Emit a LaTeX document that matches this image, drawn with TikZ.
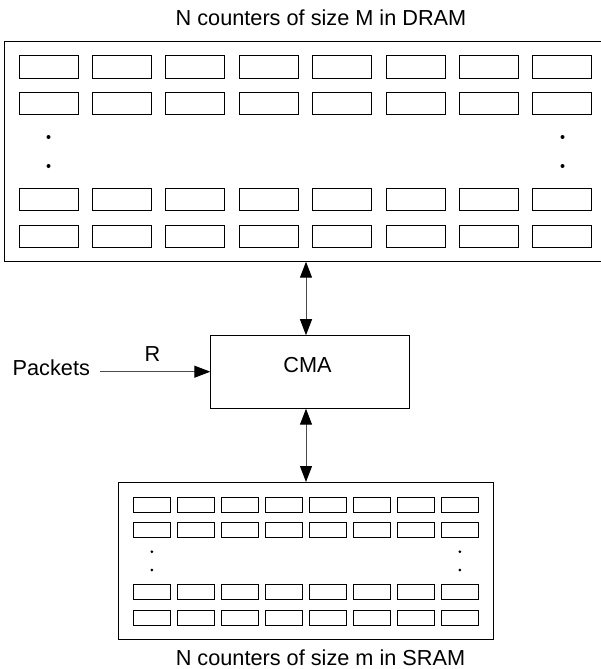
\documentclass[tikz,border=0pt]{standalone}
\usepackage{fontspec}
\setmainfont{Liberation Sans}
\usetikzlibrary{arrows.meta}
\begin{document}
\begin{tikzpicture}[x=1pt,y=-1pt,
  every node/.style={inner sep=0pt, outer sep=0pt},
  lbl/.style={font=\fontsize{21.7}{24}\selectfont, anchor=base},
  frame/.style={draw=black, line width=1pt, anchor=north west},
  bigcell/.style={draw=black, line width=1pt, anchor=north west, minimum width=59pt, minimum height=22pt},
  smallcell/.style={draw=black, line width=0.9pt, anchor=north west, minimum width=37pt, minimum height=15pt},
  conn/.style={draw=black!70, line width=1pt},
  tip/.style={-{Triangle[length=16pt,width=12pt,fill=black,color=black]}},
  bitip/.style={{Triangle[length=16pt,width=12pt,fill=black,color=black]}-{Triangle[length=16pt,width=12pt,fill=black,color=black]}}]
\useasboundingbox (0,0) rectangle (601,669);

% DRAM frame (right edge beyond the page)
\node[frame, minimum width=600pt, minimum height=220pt] (dram) at (4.5,41.7) {};
\node[lbl] (dramlbl) at (321,26) {N counters of size M in DRAM};

% DRAM cells
\foreach \r/\ry in {1/56,2/92,3/188.5,4/225}{
  \foreach \c in {0,...,7}{
    \node[bigcell] (d-\r-\c) at ({19+73.4*\c},\ry) {};
  }
}
\foreach \yy in {137,166}{
  \fill (48.5,\yy) circle (2pt);
  \fill (562.5,\yy) circle (2pt);
}

% CMA
\node[frame, minimum width=198.7pt, minimum height=73.5pt] (cma) at (210.3,335.2) {};
\node[lbl] (cmalbl) at (307.5,372) {CMA};

% SRAM frame
\node[frame, minimum width=375pt, minimum height=157.5pt] (sram) at (118.3,482) {};
\node[lbl] (sramlbl) at (320.5,665.5) {N counters of size m in SRAM};

% SRAM cells
\foreach \r/\ry in {1/497,2/522.3,3/584.3,4/610.7}{
  \foreach \c in {0,...,7}{
    \node[smallcell] (s-\r-\c) at ({133.3+44*\c},\ry) {};
  }
}
\foreach \yy in {551.7,570}{
  \fill (151.8,\yy) circle (1.5pt);
  \fill (459.8,\yy) circle (1.5pt);
}

% Packets input
\node[lbl, anchor=base west] (packets) at (12.7,375) {Packets};
\node[lbl] (rlbl) at (152.5,361.7) {R};
\coordinate (pin) at (100,371.7);
\draw[conn, tip] (pin) -- (pin -| cma.west);

% vertical connectors
\coordinate (axis) at (306,0);
\draw[conn, bitip] (dram.south -| axis) -- (cma.north -| axis);
\draw[conn, bitip] (cma.south -| axis) -- (sram.north -| axis);
\end{tikzpicture}
\end{document}
